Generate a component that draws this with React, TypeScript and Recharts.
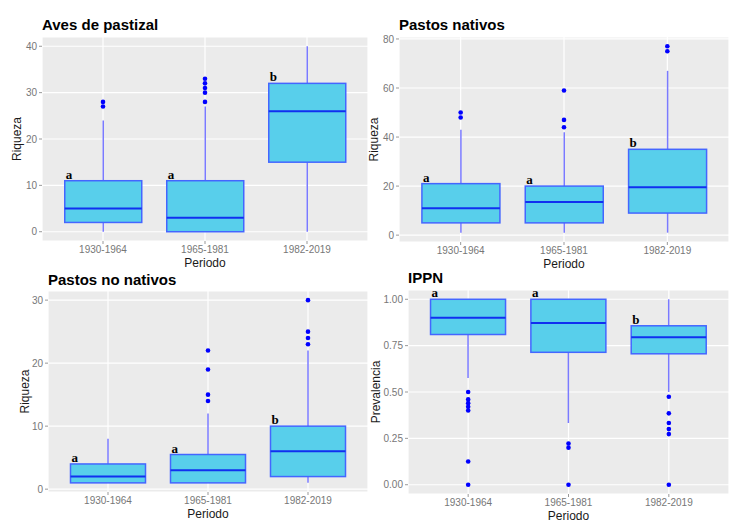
import React from 'react';
import { ComposedChart, Bar, Scatter, XAxis, YAxis, CartesianGrid, Label } from 'recharts';

const periods = ['1930-1964', '1965-1981', '1982-2019'];
const letters = ['a', 'a', 'b'];

// per period: [lower whisker, q1, median, q3, upper whisker]
const avesStats = [
  [0, 2, 5, 11, 24],
  [0, 0, 3, 11, 27],
  [0, 15, 26, 32, 40],
];
const avesOut = [[27, 28], [28, 30, 31, 32, 33], []];

const nativosStats = [
  [1, 5, 11, 21, 43],
  [1, 5, 13.5, 20, 42],
  [1, 9, 19.5, 35, 67],
];
const nativosOut = [[48, 50], [44, 47, 59], [75, 77]];

const noNativosStats = [
  [1, 1, 2, 4, 8],
  [1, 1, 3, 5.5, 12],
  [1, 2, 6, 10, 22],
];
const noNativosOut = [[], [14, 15, 19, 22], [23, 24, 25, 30]];

const ippnStats = [
  [0.575, 0.81, 0.9, 1, 1],
  [0.333, 0.714, 0.872, 1, 1],
  [0.5, 0.706, 0.795, 0.857, 1],
];
const ippnOut = [
  [0, 0.125, 0.4, 0.42, 0.44, 0.46, 0.5],
  [0, 0.2, 0.222],
  [0, 0.273, 0.3, 0.333, 0.385, 0.474],
];

const FILL = '#58CFEB';
const EDGE = '#4466FF';
const MEDIAN = '#1030F0';
const WHISKER = '#7A7AFF';
const DOT = '#0000FF';

const sans = '"Liberation Sans", Arial, sans-serif';

const toRows = (stats: number[][]) =>
  periods.map((p, i) => ({
    period: p,
    lo: stats[i][0],
    q1: stats[i][1],
    med: stats[i][2],
    q3: stats[i][3],
    hi: stats[i][4],
    letter: letters[i],
  }));

const toPoints = (out: number[][]) =>
  out.flatMap((vals, i) => vals.map((v) => ({ period: periods[i], v })));

// range bar [lo, hi] gives the whisker span; box parts are placed inside it
function BoxShape(props: any) {
  const { x, y, width, height, payload } = props;
  if (x == null || payload == null) return null;
  const top = Math.min(y, y + height);
  const bot = Math.max(y, y + height);
  const { lo, hi, q1, med, q3, letter } = payload;
  const py = (v: number) => bot - ((v - lo) / (hi - lo)) * (bot - top);
  const cx = x + width / 2;
  return (
    <g>
      <line x1={cx} x2={cx} y1={py(hi)} y2={py(q3)} stroke={WHISKER} strokeWidth={1.5} />
      <line x1={cx} x2={cx} y1={py(q1)} y2={py(lo)} stroke={WHISKER} strokeWidth={1.5} />
      <rect x={x} y={py(q3)} width={width} height={py(q1) - py(q3)} fill={FILL} stroke={EDGE} strokeWidth={1.5} />
      <line x1={x} x2={x + width} y1={py(med)} y2={py(med)} stroke={MEDIAN} strokeWidth={2} />
      <text x={x + 1} y={py(q3) - 2} fontFamily='"Liberation Serif", "Times New Roman", serif' fontWeight="bold" fontSize={13} fill="#000">
        {letter}
      </text>
    </g>
  );
}

function Panel(props: any) {
  const { cfg, stats, out, domain, ticks, yLabel, title, fmt } = props;
  const rows = toRows(stats);
  const pts = toPoints(out);
  const xH = 30;
  const margin = {
    top: cfg.t - cfg.top,
    right: cfg.left + cfg.width - cfg.r,
    bottom: cfg.top + cfg.height - cfg.b - xH,
    left: 0,
  };
  const pad = Math.round((cfg.r - cfg.l) / 32);
  return (
    <div style={{ position: 'absolute', left: cfg.left, top: cfg.top, width: cfg.width, height: cfg.height }}>
      <div
        style={{
          position: 'absolute',
          left: cfg.l - cfg.left,
          top: cfg.titleY - cfg.top - 9,
          font: `bold 15px ${sans}`,
          lineHeight: '18px',
          whiteSpace: 'nowrap',
          color: '#000',
        }}
      >
        {title}
      </div>
      <ComposedChart width={cfg.width} height={cfg.height} data={rows} margin={margin} barCategoryGap="12.5%">
        <CartesianGrid fill="#EBEBEB" stroke="#FFFFFF" strokeWidth={1.2} />
        <XAxis
          dataKey="period"
          type="category"
          allowDuplicatedCategory={false}
          height={xH}
          padding={{ left: pad, right: pad }}
          axisLine={false}
          tickLine={{ stroke: '#999' }}
          tickSize={3}
          tickMargin={2}
          tick={{ fontSize: 10, fill: '#777', fontFamily: sans }}
        >
          <Label
            content={({ viewBox }: any) => (
              <text
                x={viewBox.x + viewBox.width / 2}
                y={viewBox.y + 22}
                textAnchor="middle"
                dominantBaseline="central"
                fontSize={12}
                fontFamily={sans}
                fill="#1a1a1a"
              >
                Periodo
              </text>
            )}
          />
        </XAxis>
        <YAxis
          type="number"
          domain={domain}
          ticks={ticks}
          interval={0}
          allowDataOverflow
          width={cfg.l - cfg.left}
          axisLine={false}
          tickLine={{ stroke: '#999' }}
          tickSize={3}
          tickMargin={2}
          tickFormatter={fmt}
          tick={{ fontSize: 10, fill: '#777', fontFamily: sans }}
        >
          <Label
            content={({ viewBox }: any) => {
              const lx = cfg.labelX - cfg.left;
              const ly = viewBox.y + viewBox.height / 2;
              return (
                <text
                  x={lx}
                  y={ly}
                  transform={`rotate(-90 ${lx} ${ly})`}
                  textAnchor="middle"
                  dominantBaseline="central"
                  fontSize={12}
                  fontFamily={sans}
                  fill="#1a1a1a"
                >
                  {yLabel}
                </text>
              );
            }}
          />
        </YAxis>
        <Bar
          data={rows}
          dataKey={(d: any) => [d.lo, d.hi]}
          shape={(p: any) => <BoxShape {...p} />}
          isAnimationActive={false}
        />
        <Scatter
          data={pts}
          dataKey="v"
          fill={DOT}
          shape={(p: any) => <circle cx={p.cx} cy={p.cy} r={2.3} fill={DOT} />}
          isAnimationActive={false}
        />
      </ComposedChart>
    </div>
  );
}

const p1 = { left: 0, top: 0, width: 372, height: 272, l: 42, r: 368, t: 37, b: 241, titleY: 25, labelX: 17 };
const p2 = { left: 366, top: 0, width: 370, height: 272, l: 399, r: 729, t: 37, b: 242, titleY: 25, labelX: 374 };
const p3 = { left: 0, top: 262, width: 372, height: 265, l: 48, r: 368, t: 291, b: 492, titleY: 280, labelX: 25 };
const p4 = { left: 366, top: 262, width: 370, height: 265, l: 408, r: 729, t: 290, b: 494, titleY: 278, labelX: 376 };

export default function App() {
  return (
    <div style={{ position: 'absolute', left: 0, top: 0, width: 736, height: 527, background: '#fff', overflow: 'hidden' }}>
      <Panel cfg={p1} stats={avesStats} out={avesOut} domain={[-2, 42]} ticks={[0, 10, 20, 30, 40]} yLabel="Riqueza" title="Aves de pastizal" />
      <Panel cfg={p2} stats={nativosStats} out={nativosOut} domain={[-2.8, 80.8]} ticks={[0, 20, 40, 60, 80]} yLabel="Riqueza" title="Pastos nativos" />
      <Panel cfg={p3} stats={noNativosStats} out={noNativosOut} domain={[-0.45, 31.45]} ticks={[0, 10, 20, 30]} yLabel="Riqueza" title="Pastos no nativos" />
      <Panel
        cfg={p4}
        stats={ippnStats}
        out={ippnOut}
        domain={[-0.05, 1.05]}
        ticks={[0, 0.25, 0.5, 0.75, 1]}
        yLabel="Prevalencia"
        title="IPPN"
        fmt={(v: number) => v.toFixed(2)}
      />
    </div>
  );
}
